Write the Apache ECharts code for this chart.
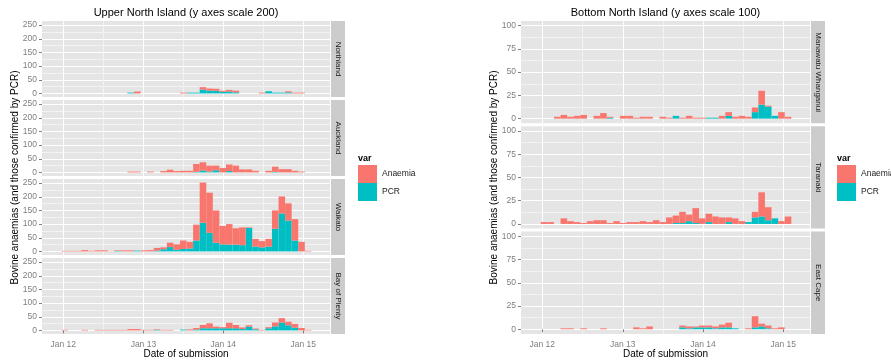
<!DOCTYPE html>
<html>
<head>
<meta charset="utf-8">
<title>Bovine anaemias by region</title>
<script src="https://cdn.jsdelivr.net/npm/echarts@6.0.0/dist/echarts.min.js"></script>
<style>
  html, body { margin: 0; padding: 0; background: #fff; }
  #chart { width: 891px; height: 361px; }
</style>
</head>
<body>
<div id="chart"></div>
<script>
// histogram bins, 30 days wide
const BIN_ORIGIN = Date.UTC(2011, 11, 25);
const BIN_DAYS = 30;
const DAY = 86400000;

const xTickDates = [Date.UTC(2012, 0, 1), Date.UTC(2013, 0, 1), Date.UTC(2014, 0, 1), Date.UTC(2015, 0, 1)];
const xTickLabels = ['Jan 12', 'Jan 13', 'Jan 14', 'Jan 15'];
const xMinorDates = [Date.UTC(2012, 6, 2), Date.UTC(2013, 6, 2), Date.UTC(2014, 6, 2)];

const upperTicks = [0, 50, 100, 150, 200, 250];
const upperMinor = [25, 75, 125, 175, 225];
const bottomTicks = [0, 25, 50, 75, 100];
const bottomMinor = [12.5, 37.5, 62.5, 87.5];

// stacked segment heights per bin (PCR at the bottom, Anaemia on top)
const northlandPcr = [0,0,0,0,0,0,0,0,0,0, 3,0,0,0,0,0,0,0,0,3, 3,14,10,10,6,7,4,0,0,0, 0,8,3,3,4,0,0,0];
const northlandAnaemia = [0,0,0,0,0,0,0,0,0,0, 0,7,0,0,0,0,0,0,3,0, 0,9,8,7,4,6,6,0,0,0, 3,0,0,0,4,3,3,0];
const aucklandPcr = [0,0,0,0,0,0,0,0,0,0, 0,0,0,0,0,0,0,0,0,0, 2,7,3,8,0,5,0,0,0,0, 0,0,2,0,0,0,0,0];
const aucklandAnaemia = [0,0,0,0,0,0,0,0,0,0, 3,3,0,3,0,5,10,5,6,6, 29,30,22,17,16,24,25,11,11,6, 0,6,19,12,12,6,3,0];
const waikatoPcr = [0,0,0,0,0,0,0,0,2,0, 0,3,0,0,3,8,16,6,9,11, 40,105,68,32,26,25,25,23,86,18, 15,18,83,139,113,40,0,0];
const waikatoAnaemia = [2,2,2,5,2,4,4,1,2,4, 4,0,4,5,10,7,16,20,31,24, 58,147,147,118,67,75,60,65,2,28, 23,28,67,62,63,78,35,2];
const bopPcr = [0,0,0,0,0,0,0,0,0,0, 0,0,0,0,2,0,0,0,3,0, 3,8,8,8,8,8,8,5,14,4, 0,8,15,29,19,10,0,0];
const bopAnaemia = [2,0,0,2,0,2,2,2,2,2, 5,5,2,2,2,2,2,0,0,4, 6,12,18,6,4,20,12,6,5,3, 2,4,14,16,13,14,9,2];
const manawatuPcr = [0,0,0,0,0,0,0,0,0,0, 1,0,0,0,0,0,0,0,0,0, 3,0,0,0,0,1,1,0,3,0, 0,0,7,15,13,3,0,0];
const manawatuAnaemia = [0,0,2,4,2,3,4,0,3,6, 1,0,3,3,1,2,2,0,2,1, 0,1,3,1,1,0,0,3,4,2, 3,2,5,15,1,0,7,2];
const taranakiPcr = [0,0,0,0,0,0,0,0,0,0, 0,0,0,0,0,0,0,0,0,0, 1,1,3,1,0,2,0,0,2,0, 0,2,7,8,4,6,0,0];
const taranakiAnaemia = [2,2,0,6,3,2,1,3,4,4, 1,3,1,2,2,3,2,4,2,7, 8,12,7,16,6,9,8,7,5,6, 3,0,6,26,14,0,3,8];
const eastCapePcr = [0,0,0,0,0,0,0,0,0,0, 0,0,0,0,0,0,0,0,0,0, 0,2,1,2,2,2,1,2,2,1, 0,0,2,3,1,0,0,0];
const eastCapeAnaemia = [0,0,0,1,1,0,1,0,0,1, 0,0,0,0,2,1,3,0,0,0, 0,2,2,1,2,2,2,3,5,0, 0,1,12,3,3,1,2,0];

const ANAEMIA_COLOR = '#F8766D';
const PCR_COLOR = '#00BFC4';
const FONT = '"Liberation Sans", Arial, sans-serif';

const facets = [
  { name: 'Northland', panel: 0, pcr: northlandPcr, anaemia: northlandAnaemia },
  { name: 'Auckland', panel: 0, pcr: aucklandPcr, anaemia: aucklandAnaemia },
  { name: 'Waikato', panel: 0, pcr: waikatoPcr, anaemia: waikatoAnaemia },
  { name: 'Bay of Plenty', panel: 0, pcr: bopPcr, anaemia: bopAnaemia },
  { name: 'Manawatu Whanganui', panel: 1, pcr: manawatuPcr, anaemia: manawatuAnaemia },
  { name: 'Taranaki', panel: 1, pcr: taranakiPcr, anaemia: taranakiAnaemia },
  { name: 'East Cape', panel: 1, pcr: eastCapePcr, anaemia: eastCapeAnaemia }
];

const panels = [
  { left: 42, width: 288, top: 21, height: 76, gap: 3, yMin: -13, yMax: 265,
    ticks: upperTicks, minor: upperMinor, count: 4,
    title: 'Upper North Island (y axes scale 200)', legendLeft: 358 },
  { left: 521, width: 289, top: 21, height: 102.3, gap: 3, yMin: -5, yMax: 105,
    ticks: bottomTicks, minor: bottomMinor, count: 3,
    title: 'Bottom North Island (y axes scale 100)', legendLeft: 837 }
];

const xMin = Date.UTC(2011, 8, 26);
const xMax = Date.UTC(2015, 4, 3);
const binCenters = waikatoPcr.map((_, k) => BIN_ORIGIN + (k * BIN_DAYS + BIN_DAYS / 2) * DAY);

const grids = [], xAxes = [], yAxes = [], series = [], graphics = [];
const rowOf = [0, 1, 2, 3, 0, 1, 2];

// count comes first in each item so the stack is taken on y, not on the dates
const barDims = ['count', 'date'];
const barEncode = { x: 'date', y: 'count' };
const minorLine = { show: true, lineStyle: { color: '#F3F3F3', width: 1 } };

facets.forEach((f, i) => {
  const p = panels[f.panel];
  const row = rowOf[i];
  const top = p.top + row * (p.height + p.gap);
  const isBottom = row === p.count - 1;
  grids.push({
    left: p.left, top: top, width: p.width, height: p.height,
    show: true, backgroundColor: '#E5E5E5', borderWidth: 0,
    outerBoundsMode: 'none', containLabel: false
  });
  // dates are plain timestamps on a value axis
  xAxes.push({
    type: 'value', gridIndex: i, min: xMin, max: xMax,
    axisLine: { show: false },
    axisTick: { show: isBottom, length: 3, customValues: xTickDates, lineStyle: { color: '#7F7F7F' } },
    axisLabel: {
      show: isBottom, customValues: xTickDates, margin: 6, color: '#7F7F7F',
      fontSize: 8.5, fontFamily: FONT,
      formatter: v => xTickLabels[xTickDates.indexOf(v)] || ''
    },
    splitLine: { show: true, lineStyle: { color: '#FFFFFF', width: 1 } }
  });
  xAxes.push({
    type: 'value', gridIndex: i, min: xMin, max: xMax,
    axisLine: { show: false },
    axisTick: { show: false, customValues: xMinorDates },
    axisLabel: { show: false, customValues: xMinorDates },
    splitLine: minorLine
  });
  yAxes.push({
    type: 'value', gridIndex: i, min: p.yMin, max: p.yMax,
    axisLine: { show: false },
    axisTick: { show: true, length: 3, customValues: p.ticks, lineStyle: { color: '#7F7F7F' } },
    axisLabel: { customValues: p.ticks, margin: 5, color: '#7F7F7F', fontSize: 8.5, fontFamily: FONT },
    splitLine: { show: true, lineStyle: { color: '#FFFFFF', width: 1 } }
  });
  yAxes.push({
    type: 'value', gridIndex: i, min: p.yMin, max: p.yMax, position: 'left',
    axisLine: { show: false },
    axisTick: { show: false, customValues: p.minor },
    axisLabel: { show: false, customValues: p.minor },
    splitLine: minorLine
  });
  series.push({
    type: 'bar', name: 'PCR', stack: 'f' + i, xAxisIndex: 2 * i, yAxisIndex: 2 * i,
    dimensions: barDims, encode: barEncode,
    barWidth: '100%', itemStyle: { color: PCR_COLOR },
    data: binCenters.map((d, k) => [f.pcr[k], d])
  });
  series.push({
    type: 'bar', name: 'Anaemia', stack: 'f' + i, xAxisIndex: 2 * i, yAxisIndex: 2 * i,
    dimensions: barDims, encode: barEncode,
    barWidth: '100%', itemStyle: { color: ANAEMIA_COLOR },
    data: binCenters.map((d, k) => [f.anaemia[k], d])
  });

  // facet strip
  const sx = p.left + p.width + 1;
  graphics.push({
    type: 'rect', shape: { x: sx, y: top, width: 14, height: p.height },
    style: { fill: '#CCCCCC' }, silent: true
  });
  graphics.push({
    type: 'text', x: sx + 7, y: top + p.height / 2, rotation: -Math.PI / 2,
    style: { text: f.name, fill: '#1A1A1A', font: '8px ' + FONT,
      align: 'center', verticalAlign: 'middle', textAlign: 'center', textVerticalAlign: 'middle' },
    silent: true
  });
});

panels.forEach((p, j) => {
  const cx = p.left + p.width / 2;
  const bottom = p.top + p.count * p.height + (p.count - 1) * p.gap;
  graphics.push({
    type: 'text', x: cx, y: 13,
    style: { text: p.title, fill: '#000', font: '11px ' + FONT,
      align: 'center', verticalAlign: 'middle', textAlign: 'center', textVerticalAlign: 'middle' }
  });
  graphics.push({
    type: 'text', x: cx, y: 354,
    style: { text: 'Date of submission', fill: '#000', font: '10px ' + FONT,
      align: 'center', verticalAlign: 'middle', textAlign: 'center', textVerticalAlign: 'middle' }
  });
  graphics.push({
    type: 'text', x: p.left - 27, y: (p.top + bottom) / 2, rotation: Math.PI / 2,
    style: { text: 'Bovine anaemias (and those confirmed by PCR)', fill: '#000', font: '10px ' + FONT,
      align: 'center', verticalAlign: 'middle', textAlign: 'center', textVerticalAlign: 'middle' }
  });
  graphics.push({
    type: 'text', x: p.legendLeft, y: 159,
    style: { text: 'var', fill: '#000', font: 'bold 9px ' + FONT,
      align: 'left', verticalAlign: 'middle', textAlign: 'left', textVerticalAlign: 'middle' }
  });
});

const legends = panels.map(p => ({
  orient: 'vertical', left: p.legendLeft, top: 165, padding: 0,
  itemWidth: 19, itemHeight: 18, itemGap: 0, selectedMode: false,
  textStyle: { color: '#1A1A1A', fontSize: 8.5, fontFamily: FONT },
  data: [{ name: 'Anaemia', icon: 'rect' }, { name: 'PCR', icon: 'rect' }]
}));

const chart = echarts.init(document.getElementById('chart'));
chart.setOption({
  animation: false,
  textStyle: { fontFamily: FONT },
  grid: grids,
  xAxis: xAxes,
  yAxis: yAxes,
  legend: legends,
  series: series,
  graphic: graphics
});
window.addEventListener('resize', () => chart.resize());
</script>
</body>
</html>
